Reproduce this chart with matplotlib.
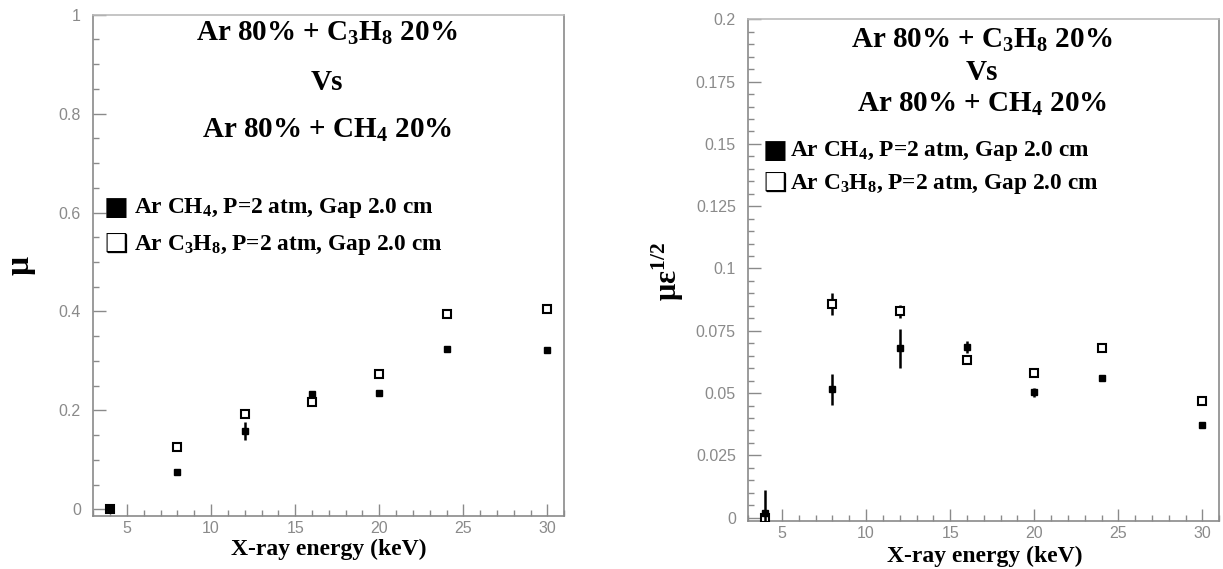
import numpy as np
import matplotlib
matplotlib.use("Agg")
import matplotlib.pyplot as plt
from matplotlib.ticker import MultipleLocator, FuncFormatter

plt.rcParams["mathtext.fontset"] = "custom"
plt.rcParams["mathtext.rm"] = "Liberation Serif:bold"
plt.rcParams["mathtext.bf"] = "Liberation Serif:bold"
plt.rcParams["mathtext.it"] = "Liberation Serif:bold"
plt.rcParams["mathtext.default"] = "bf"

# x-ray energies (keV)
energy = [4, 8, 12, 16, 20, 24, 30]

# mu, Ar CH4 (filled) and Ar C3H8 (open)
mu_ch4 = [0.002, 0.075, 0.158, 0.234, 0.235, 0.325, 0.323]
mu_ch4_err = [0.006, 0.006, 0.018, 0.006, 0.005, 0.004, 0.004]
mu_c3h8 = [0.0, 0.126, 0.192, 0.216, 0.274, 0.394, 0.405]
mu_c3h8_err = [0.003, 0.004, 0.004, 0.004, 0.004, 0.004, 0.004]

# mu * eps^(1/2)
me_ch4 = [0.002, 0.0515, 0.068, 0.0685, 0.0503, 0.056, 0.0373]
me_ch4_err = [0.009, 0.0063, 0.0079, 0.0025, 0.0017, 0.0008, 0.0008]
me_c3h8 = [0.0, 0.0857, 0.0828, 0.0633, 0.0582, 0.0679, 0.0469]
me_c3h8_err = [0.001, 0.0043, 0.0025, 0.0008, 0.0008, 0.0008, 0.0008]

label_ch4 = "Ar CH$_4$, P=2 atm, Gap 2.0 cm"
label_c3h8 = "Ar C$_3$H$_8$, P=2 atm, Gap 2.0 cm"

W, H = 1223, 569
fig = plt.figure(figsize=(W / 100, H / 100), dpi=100)

serif = "Liberation Serif"
tick_font = "Liberation Sans"
gray = "#8a8a8a"


def fmt(v, pos):
    s = ("%.3f" % v).rstrip("0").rstrip(".")
    return s


def style_axes(ax, ymajor, yminor):
    ax.set_xlim(3, 31)
    ax.xaxis.set_major_locator(MultipleLocator(5))
    ax.xaxis.set_minor_locator(MultipleLocator(1))
    ax.yaxis.set_major_locator(MultipleLocator(ymajor))
    ax.yaxis.set_minor_locator(MultipleLocator(yminor))
    ax.yaxis.set_major_formatter(FuncFormatter(fmt))
    ax.tick_params(which="both", direction="in", colors=gray, top=False, right=False,
                   labelsize=11.5, width=1)
    ax.tick_params(which="major", length=9)
    ax.tick_params(which="minor", length=4.5)
    ax.tick_params(axis="y", pad=9)
    ax.tick_params(axis="x", pad=3.5)
    for lab in ax.get_xticklabels() + ax.get_yticklabels():
        lab.set_fontfamily(tick_font)
        lab.set_color(gray)
    ax.spines["left"].set_color(gray)
    ax.spines["bottom"].set_color(gray)
    ax.spines["top"].set_color("#bbbbbb")
    ax.spines["right"].set_color(gray)
    for s in ax.spines.values():
        s.set_linewidth(1.2)


def draw(ax, yf, yf_err, yo, yo_err):
    ax.errorbar(energy, yo, yerr=yo_err, fmt="s", ms=5.4, mfc="white", mec="black",
                mew=1.5, ecolor="black", elinewidth=1.8, capsize=0, zorder=3)
    ax.errorbar(energy, yf, yerr=yf_err, fmt="s", ms=5.0, mfc="black", mec="black",
                ecolor="black", elinewidth=1.8, capsize=0, zorder=4)


def px_ax(x0, y0, x1, y1):
    return fig.add_axes([x0 / W, 1 - y1 / H, (x1 - x0) / W, (y1 - y0) / H])


def ftext(x, y, s, size, **kw):
    fig.text(x / W, 1 - y / H, s, fontsize=size, fontfamily=serif, fontweight="bold",
             ha="center", va="center", **kw)


def legend_rows(x_mark, x_text, y1, y2):
    fig.text(x_mark / W, 1 - y1 / H, "\u25a0", fontsize=19, fontfamily="DejaVu Sans",
             ha="center", va="center")
    fig.text(x_mark / W, 1 - y2 / H, "\u2751", fontsize=19, fontfamily="DejaVu Sans",
             ha="center", va="center")
    fig.text(x_text / W, 1 - y1 / H, label_ch4, fontsize=16.8, fontfamily=serif,
             fontweight="bold", va="center")
    fig.text(x_text / W, 1 - y2 / H, label_c3h8, fontsize=16.8, fontfamily=serif,
             fontweight="bold", va="center")


# left panel: mu
ax1 = px_ax(93.3, 14.7, 564.3, 516)
draw(ax1, mu_ch4, mu_ch4_err, mu_c3h8, mu_c3h8_err)
ax1.set_ylim(-0.0135, 1.0)
style_axes(ax1, 0.2, 0.05)

ftext(327, 33, "Ar 80% + C$_3$H$_8$ 20%", 21)
ftext(327, 82, "Vs", 21)
ftext(327, 130, "Ar 80% + CH$_4$ 20%", 21)
legend_rows(116, 134, 208, 245)
ftext(329, 549, "X-ray energy (keV)", 17)
ftext(20, 265, "\u03bc", 24, rotation=90)

# right panel: mu * eps^1/2
ax2 = px_ax(748.3, 19.3, 1219.3, 521.3)
draw(ax2, me_ch4, me_ch4_err, me_c3h8, me_c3h8_err)
ax2.set_ylim(-0.00145, 0.2)
style_axes(ax2, 0.025, 0.005)

ftext(982, 40, "Ar 80% + C$_3$H$_8$ 20%", 21)
ftext(982, 72, "Vs", 21)
ftext(982, 104, "Ar 80% + CH$_4$ 20%", 21)
legend_rows(775, 790, 151, 184)
ftext(985, 556, "X-ray energy (keV)", 17)
ftext(668, 272, "\u03bc\u03b5$^{1/2}$", 22, rotation=90)

fig.savefig("out.png", dpi=100)
